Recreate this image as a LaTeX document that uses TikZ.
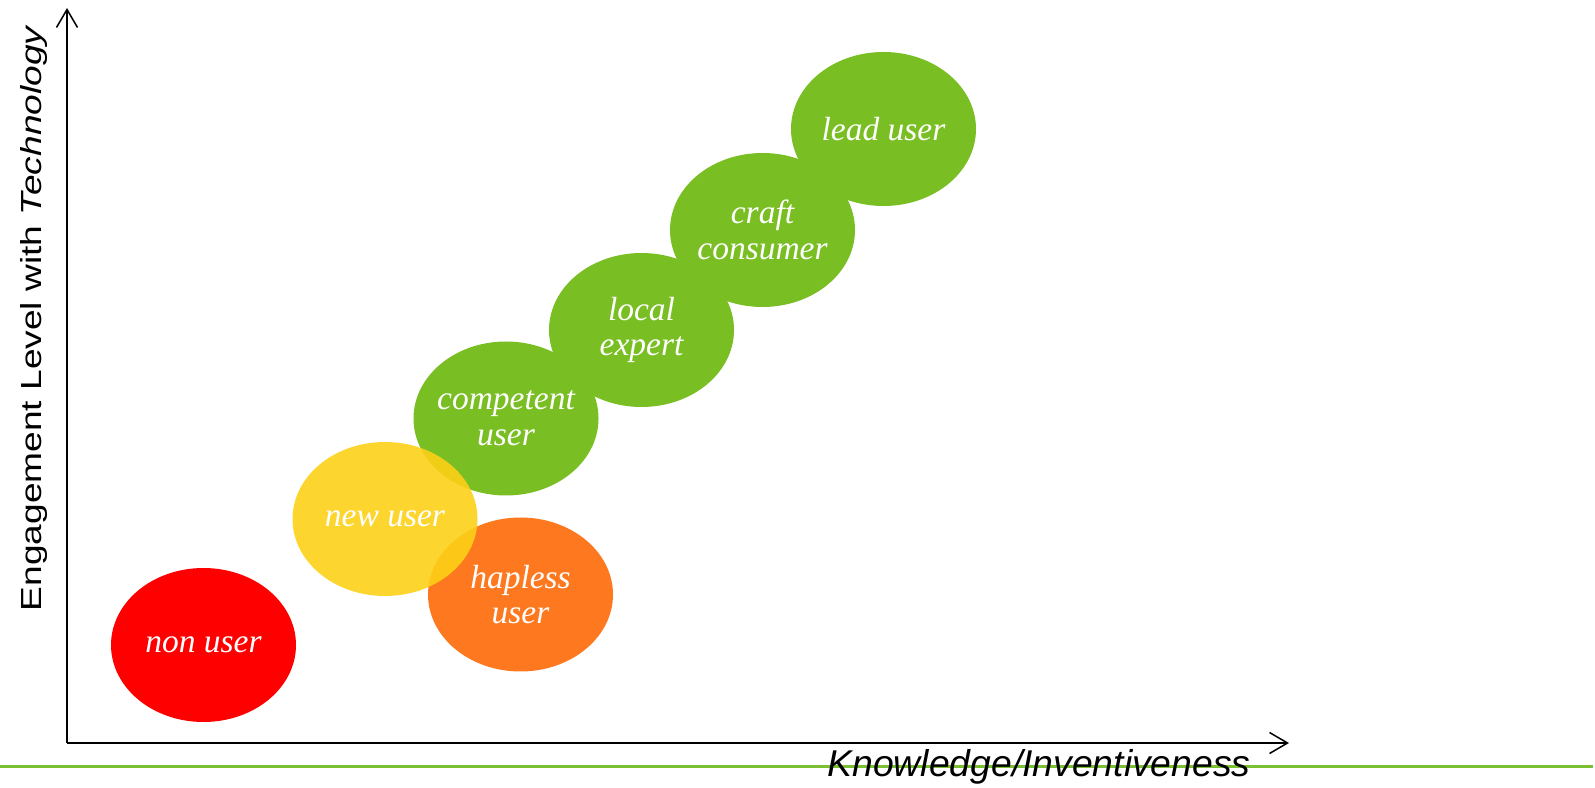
\documentclass[tikz,border=0pt]{standalone}
\usepackage{fontspec}
\setmainfont{Liberation Serif}
\setsansfont{Liberation Sans}
\usetikzlibrary{positioning, arrows.meta, shapes.geometric}

\definecolor{userred}{RGB}{255,0,0}
\definecolor{useryellow}{RGB}{253,208,24}
\definecolor{userorange}{RGB}{253,120,30}
\definecolor{usergreen}{RGB}{121,190,34}
\definecolor{rulegreen}{RGB}{122,192,50}

\begin{document}
\begin{tikzpicture}[
        x=1pt, y=1pt,
        node distance=100pt and 121pt, on grid,
        stage/.style={ellipse, minimum width=185pt, minimum height=154pt, inner sep=-20pt, text=white, align=center, font=\fontsize{33.5}{35.5}\selectfont\itshape},
        axis/.style={-{Straight Barb[length=18pt, width=21pt]}, line width=1.5pt},
        axislabel/.style={font=\sffamily, inner sep=0pt}
      ]
        \useasboundingbox (0,0) rectangle (1595,787);

        % Green rule along the bottom
        \coordinate (ruleL) at (0,21);
        \coordinate (ruleR) at (1593,21);
        \draw[rulegreen, line width=3pt] (ruleL) -- (ruleR);

        % Axes
        \coordinate (origin) at (67,44);
        \coordinate (xend) at (1289,44);
        \coordinate (yend) at (67,779);
        \draw[axis] (origin) -- (xend);
        \draw[axis] (origin) -- (yend);

        \node[axislabel, anchor=base, font=\sffamily\itshape\fontsize{37.3}{40}\selectfont] (xlabel) at (1039,10.3) {Knowledge/Inventiveness};
        \node[axislabel, anchor=base, rotate=90, font=\sffamily\fontsize{29}{32}\selectfont] (ylabel) at (41.7,469)
          {\scalebox{1.28}[1]{Engagement Level with \textit{Technology}}};

        % Green stages
        \node[stage, fill=usergreen] (competent) at (506,368.5) {competent\\user};
        \node[stage, fill=usergreen, above right=88.5pt and 135.5pt of competent] (local) {local\\expert};
        \node[stage, fill=usergreen, above right=of local] (craft) {craft\\consumer};
        \node[stage, fill=usergreen, above right=101pt and 121pt of craft] (lead) {lead user};

        % Lower stages
        \node[stage, fill=userorange, below right=176pt and 14.5pt of competent] (hapless) {hapless\\user};
        \node[stage, fill=useryellow, fill opacity=0.9, text opacity=1, below left=100.5pt and 121pt of competent] (newuser) {new user};
        \node[stage, fill=userred, below left=126pt and 181.5pt of newuser] (nonuser) {non user};
      \end{tikzpicture}
\end{document}
